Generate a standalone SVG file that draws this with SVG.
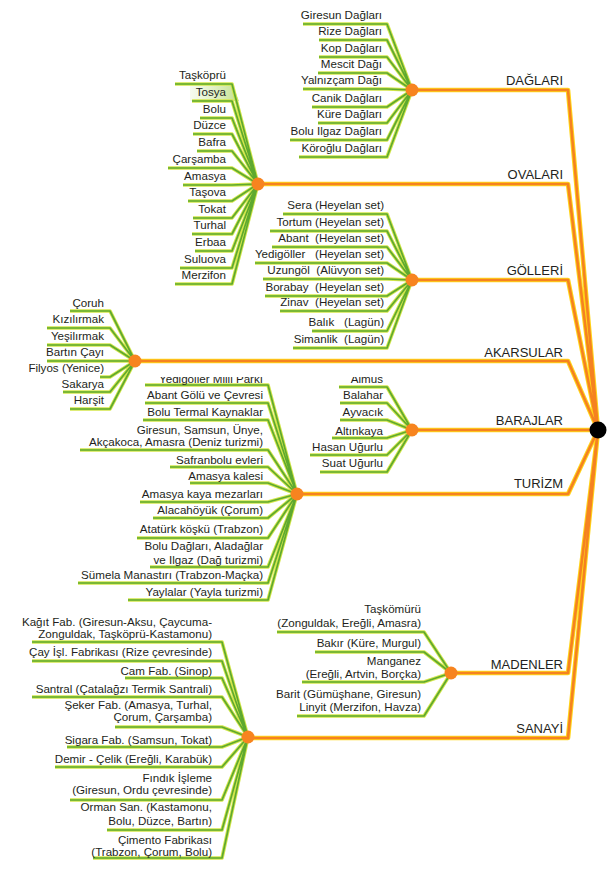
<svg xmlns="http://www.w3.org/2000/svg" xmlns:xlink="http://www.w3.org/1999/xlink" width="608" height="875" viewBox="0 0 608 875">
<style>
.t{font-family:"Liberation Sans",Arial,sans-serif;font-size:11.6px;fill:#231f20;text-anchor:end}
.c{font-family:"Liberation Sans",Arial,sans-serif;font-size:13px;fill:#231f20;text-anchor:end}
.gl{fill:none;stroke:#d3e64b;stroke-width:3.6;stroke-linejoin:round}
.gg{fill:none;stroke:#5ea92f;stroke-width:1.7;stroke-linejoin:round}
.oy{fill:none;stroke:#ffd51a;stroke-width:4.6;stroke-linejoin:round}
.oo{fill:none;stroke:#f58220;stroke-width:2.6;stroke-linejoin:round}
.hub{fill:#f7841f}
</style>
<defs>
<linearGradient id="tos" x1="0" y1="0" x2="1" y2="0">
<stop offset="0" stop-color="#d6ebb0" stop-opacity="0.2"/>
<stop offset="1" stop-color="#c3e08c"/>
</linearGradient>
<clipPath id="cut"><rect x="0" y="377" width="608" height="30"/></clipPath>
<path id="pDag" d="M303,24H387L412,90M319,40H387L412,90M319,57H387L412,90M318,73H387L412,90M303,89H387L412,90M312,107H387L412,90M318,123H387L412,90M290,140H387L412,90M299,157H387L412,90"/>
<path id="pOva" d="M175,84H232L258,184M192,101H232L258,184M200,118H232L258,184M193,134H232L258,184M197,151H232L258,184M168,168H232L258,184M183,185H232L258,184M188,201H232L258,184M193,218H232L258,184M192,234H232L258,184M195,251H232L258,184M180,268H232L258,184M175,284H232L258,184"/>
<path id="pGol" d="M283,214H387L412,280M270,231H387L412,280M272,247H387L412,280M255,263H387L412,280M263,279H387L412,280M265,296H387L412,280M280,311H387L412,280M312,331H387L412,280M293,348H387L412,280"/>
<path id="pAka" d="M70,311H110L135,361M47,328H110L135,361M47,345H110L135,361M47,361H110L135,361M100,377H110L135,361M63,392H110L135,361M70,409H110L135,361"/>
<path id="pBar" d="M339,387H387L412,430M340,403H387L412,430M340,420H387L412,430M332,438H387L412,430M310,455H387L412,430M320,472H387L412,430"/>
<path id="pTur" d="M145,385H268L297,494M145,403H268L297,494M143,420H268L297,494M80,450H268L297,494M170,467H268L297,494M190,483H268L297,494M140,502H268L297,494M153,518H268L297,494M137,538H268L297,494M150,567H268L297,494M78,583H268L297,494M128,600H268L297,494"/>
<path id="pMad" d="M277,632H424L451,673M315,652H424L451,673M302,682H424L451,673M297,716H424L451,673"/>
<path id="pSan" d="M32,642H222L248,737M32,661H222L248,737M125,678H222L248,737M32,697H222L248,737M115,727H222L248,737M67,747H222L248,737M55,767H222L248,737M70,800H222L248,737M107,830H222L248,737M93,858H222L248,737"/>
<path id="pMain" d="M412,90H568L598,430M258,184H568L598,430M412,280H568L598,430M135,361H568L598,430M412,430H598M297,494H568L598,430M451,673H568L598,430M248,738H568L598,430"/>
</defs>
<rect width="608" height="875" fill="#ffffff"/>
<polygon points="190,84 232,84 239,101 190,101" fill="url(#tos)"/>
<g id="connectors">
<use xlink:href="#pMain" class="oy"/>
<use xlink:href="#pMain" class="oo"/>
<use xlink:href="#pDag" class="gl"/><use xlink:href="#pOva" class="gl"/><use xlink:href="#pGol" class="gl"/><use xlink:href="#pAka" class="gl"/>
<use xlink:href="#pBar" class="gl"/><use xlink:href="#pTur" class="gl"/><use xlink:href="#pMad" class="gl"/><use xlink:href="#pSan" class="gl"/>
<use xlink:href="#pDag" class="gg"/><use xlink:href="#pOva" class="gg"/><use xlink:href="#pGol" class="gg"/><use xlink:href="#pAka" class="gg"/>
<use xlink:href="#pBar" class="gg"/><use xlink:href="#pTur" class="gg"/><use xlink:href="#pMad" class="gg"/><use xlink:href="#pSan" class="gg"/>
</g>
<g id="root"><circle cx="598" cy="430" r="8.5" fill="#000"/></g>
<g id="daglari">
<circle class="hub" cx="412" cy="90" r="6.5"/>
<text class="c" x="563" y="85">DAĞLARI</text>
<g id="dag-leaves">
<text class="t" x="382" y="19">Giresun Dağları</text>
<text class="t" x="382" y="35">Rize Dağları</text>
<text class="t" x="382" y="52">Kop Dağları</text>
<text class="t" x="382" y="68">Mescit Dağı</text>
<text class="t" x="382" y="84">Yalnızçam Dağı</text>
<text class="t" x="382" y="102">Canik Dağları</text>
<text class="t" x="382" y="118">Küre Dağları</text>
<text class="t" x="382" y="135">Bolu Ilgaz Dağları</text>
<text class="t" x="382" y="152">Köroğlu Dağları</text>
</g>
</g>
<g id="ovalari">
<circle class="hub" cx="258" cy="184" r="6.5"/>
<text class="c" x="563" y="179">OVALARI</text>
<g id="ova-leaves">
<text class="t" x="226" y="79">Taşköprü</text>
<text class="t" x="226" y="96">Tosya</text>
<text class="t" x="226" y="113">Bolu</text>
<text class="t" x="226" y="129">Düzce</text>
<text class="t" x="226" y="146">Bafra</text>
<text class="t" x="226" y="163">Çarşamba</text>
<text class="t" x="226" y="180">Amasya</text>
<text class="t" x="226" y="196">Taşova</text>
<text class="t" x="226" y="213">Tokat</text>
<text class="t" x="226" y="229">Turhal</text>
<text class="t" x="226" y="246">Erbaa</text>
<text class="t" x="226" y="263">Suluova</text>
<text class="t" x="226" y="279">Merzifon</text>
</g>
</g>
<g id="golleri">
<circle class="hub" cx="412" cy="280" r="6.5"/>
<text class="c" x="563" y="275">GÖLLERİ</text>
<g id="gol-leaves">
<text class="t" x="384" y="209">Sera (Heyelan set)</text>
<text class="t" x="384" y="226">Tortum (Heyelan set)</text>
<text class="t" x="384" y="242">Abant&#160; (Heyelan set)</text>
<text class="t" x="384" y="258">Yedigöller&#160;&#160; (Heyelan set)</text>
<text class="t" x="384" y="274">Uzungöl&#160; (Alüvyon set)</text>
<text class="t" x="384" y="291">Borabay&#160; (Heyelan set)</text>
<text class="t" x="384" y="306">Zinav&#160; (Heyelan set)</text>
<text class="t" x="384" y="326">Balık&#160;&#160; (Lagün)</text>
<text class="t" x="384" y="343">Simanlik&#160; (Lagün)</text>
</g>
</g>
<g id="akarsular">
<circle class="hub" cx="135" cy="361" r="6.5"/>
<text class="c" x="563" y="357">AKARSULAR</text>
<g id="aka-leaves">
<text class="t" x="104" y="307">Çoruh</text>
<text class="t" x="104" y="323">Kızılırmak</text>
<text class="t" x="104" y="340">Yeşilırmak</text>
<text class="t" x="104" y="356">Bartın Çayı</text>
<text class="t" x="104" y="372">Filyos (Yenice)</text>
<text class="t" x="104" y="388">Sakarya</text>
<text class="t" x="104" y="404">Harşit</text>
</g>
</g>
<g id="barajlar">
<circle class="hub" cx="412" cy="430" r="6.5"/>
<text class="c" x="563" y="425">BARAJLAR</text>
<g id="bar-leaves">
<text class="t" x="383" y="383" clip-path="url(#cut)">Almus</text>
<text class="t" x="383" y="399">Balahar</text>
<text class="t" x="383" y="416">Ayvacık</text>
<text class="t" x="383" y="435">Altınkaya</text>
<text class="t" x="383" y="451">Hasan Uğurlu</text>
<text class="t" x="383" y="467">Suat Uğurlu</text>
</g>
</g>
<g id="turizm">
<circle class="hub" cx="297" cy="494" r="6.5"/>
<text class="c" x="563" y="488">TURİZM</text>
<g id="tur-leaves">
<text class="t" x="263" y="383" clip-path="url(#cut)">Yedigöller Milli Parkı</text>
<text class="t" x="263" y="399">Abant Gölü ve Çevresi</text>
<text class="t" x="263" y="416">Bolu Termal Kaynaklar</text>
<text class="t" x="263" y="434">Giresun, Samsun, Ünye,<tspan x="263" y="446">Akçakoca, Amasra (Deniz turizmi)</tspan></text>
<text class="t" x="263" y="464">Safranbolu evleri</text>
<text class="t" x="263" y="480">Amasya kalesi</text>
<text class="t" x="263" y="498">Amasya kaya mezarları</text>
<text class="t" x="263" y="514">Alacahöyük (Çorum)</text>
<text class="t" x="263" y="533">Atatürk köşkü (Trabzon)</text>
<text class="t" x="263" y="550">Bolu Dağları, Aladağlar<tspan x="263" y="564">ve Ilgaz (Dağ turizmi)</tspan></text>
<text class="t" x="263" y="579">Sümela Manastırı (Trabzon-Maçka)</text>
<text class="t" x="263" y="596">Yaylalar (Yayla turizmi)</text>
</g>
</g>
<g id="madenler">
<circle class="hub" cx="451" cy="673" r="6.5"/>
<text class="c" x="563" y="669">MADENLER</text>
<g id="mad-leaves">
<text class="t" x="421" y="613">Taşkömürü<tspan x="421" y="627">(Zonguldak, Ereğli, Amasra)</tspan></text>
<text class="t" x="421" y="647">Bakır (Küre, Murgul)</text>
<text class="t" x="421" y="665">Manganez<tspan x="421" y="678">(Ereğli, Artvin, Borçka)</tspan></text>
<text class="t" x="421" y="698">Barit (Gümüşhane, Giresun)<tspan x="421" y="711">Linyit (Merzifon, Havza)</tspan></text>
</g>
</g>
<g id="sanayi">
<circle class="hub" cx="248" cy="737" r="6.5"/>
<text class="c" x="563" y="733">SANAYİ</text>
<g id="san-leaves">
<text class="t" x="212" y="626">Kağıt Fab. (Giresun-Aksu, Çaycuma-<tspan x="212" y="638">Zonguldak, Taşköprü-Kastamonu)</tspan></text>
<text class="t" x="212" y="656">Çay İşl. Fabrikası (Rize çevresinde)</text>
<text class="t" x="212" y="675">Cam Fab. (Sinop)</text>
<text class="t" x="212" y="693">Santral (Çatalağzı Termik Santrali)</text>
<text class="t" x="212" y="709">Şeker Fab. (Amasya, Turhal,<tspan x="212" y="721">Çorum, Çarşamba)</tspan></text>
<text class="t" x="212" y="744">Sigara Fab. (Samsun, Tokat)</text>
<text class="t" x="212" y="763">Demir - Çelik (Ereğli, Karabük)</text>
<text class="t" x="212" y="782">Fındık İşleme<tspan x="212" y="794">(Giresun, Ordu çevresinde)</tspan></text>
<text class="t" x="212" y="811">Orman San. (Kastamonu,<tspan x="212" y="825">Bolu, Düzce, Bartın)</tspan></text>
<text class="t" x="212" y="844">Çimento Fabrikası<tspan x="212" y="856">(Trabzon, Çorum, Bolu)</tspan></text>
</g>
</g>
</svg>
